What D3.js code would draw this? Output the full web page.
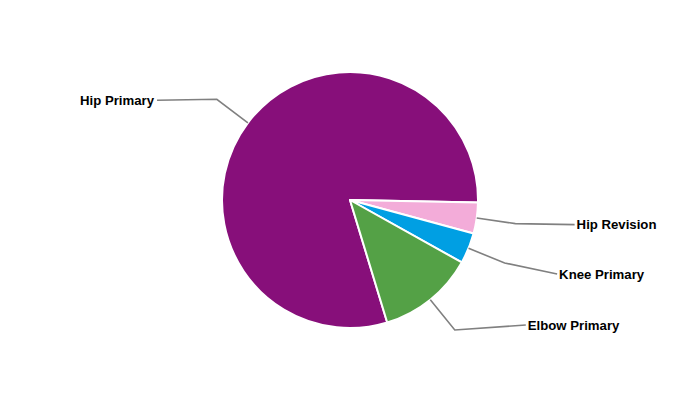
<!DOCTYPE html>
<html>
<head>
<meta charset="utf-8">
<script src="https://cdn.jsdelivr.net/npm/d3@7"></script>
<style>
html,body{margin:0;padding:0;background:#fff;}
svg{display:block;}
</style>
</head>
<body>
<svg id="chart" width="700" height="400"></svg>
<script>
// Data
const categories = ["Hip Primary", "Hip Revision", "Knee Primary", "Elbow Primary"];
const values = [80.0, 3.9, 3.9, 12.2];
const colors = ["#870f7a", "#f3acd9", "#009fe3", "#54a146"];

// Layout
const W = 700, H = 400;
const cx = 350, cy = 200, R = 128;
const elbowR = 167, labelRx = 219;
const startDeg = 163.1;
const labelShiftY = [1, 1, 11, -5];
const labelShiftX = [2, 7, 1, -4];

const svg = d3.select("#chart");
const g = svg.append("g").attr("transform", `translate(${cx},${cy})`);

const pie = d3.pie().sort(null).value(d => d.v)
  .startAngle(startDeg * Math.PI / 180)
  .endAngle(startDeg * Math.PI / 180 + 2 * Math.PI);
const data = categories.map((c, i) => ({c, v: values[i], col: colors[i], i}));
const arcs = pie(data);
const arc = d3.arc().innerRadius(0).outerRadius(R);

g.selectAll("path.slice").data(arcs).enter().append("path")
  .attr("class", "slice")
  .attr("d", arc)
  .attr("fill", d => d.data.col)
  .attr("stroke", "#fff")
  .attr("stroke-width", 2)
  .attr("stroke-linejoin", "round");

arcs.forEach((d, i) => {
  const mid = (d.startAngle + d.endAngle) / 2;
  const sx = Math.sin(mid), sy = -Math.cos(mid);
  const p0 = [R * sx, R * sy];
  const p1 = [elbowR * sx, elbowR * sy];
  const ly = p1[1] + labelShiftY[i];
  const right = sx > 0;
  const lx = (right ? 1 : -1) * Math.sqrt(Math.max(0, labelRx * labelRx - ly * ly)) + labelShiftX[i];
  g.append("path")
    .attr("d", d3.line()([p0, p1, [lx, ly]]))
    .attr("fill", "none")
    .attr("stroke", "#808080")
    .attr("stroke-width", 1.6);
  g.append("text")
    .attr("x", lx + (right ? 2 : -3))
    .attr("y", ly)
    .attr("dy", "0.35em")
    .attr("text-anchor", right ? "start" : "end")
    .attr("font-family", "'Liberation Sans', Arial, sans-serif")
    .attr("font-weight", "bold")
    .attr("font-size", 13.2)
    .attr("fill", "#000")
    .attr("stroke", "#fff")
    .attr("stroke-width", 2)
    .attr("paint-order", "stroke")
    .text(d.data.c);
});
</script>
</body>
</html>
